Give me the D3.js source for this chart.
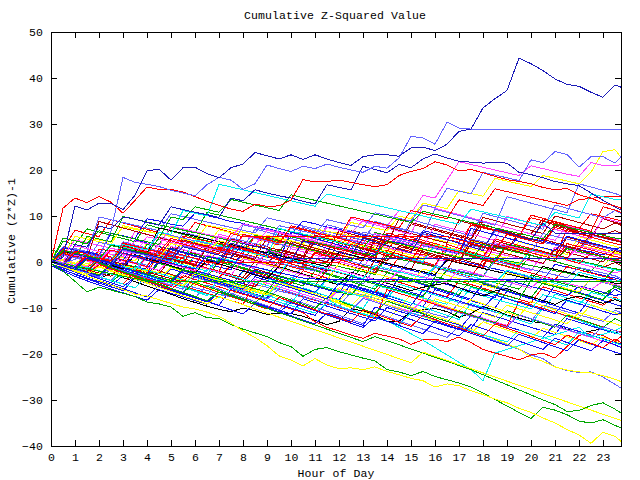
<!DOCTYPE html>
<html><head><meta charset="utf-8">
<script src="https://cdn.jsdelivr.net/npm/d3@7"></script>
<style>
body{margin:0;background:#fff}
svg{display:block}
text{font-family:"Liberation Mono","DejaVu Sans Mono",monospace;font-size:11.5px;letter-spacing:0.1px;fill:#000}
</style>
</head><body>
<svg id="chart" width="640" height="480"></svg>
<script>
// ---------- data ----------
const hours = [0,0.5,1,1.5,2,2.5,3,3.5,4,4.5,5,5.5,6,6.5,7,7.5,8,8.5,9,9.5,10,10.5,11,11.5,
  12,12.5,13,13.5,14,14.5,15,15.5,16,16.5,17,17.5,18,18.5,19,19.5,20,20.5,21,21.5,22,22.5,23,23.5,23.75];
const xTickValues = [0,1,2,3,4,5,6,7,8,9,10,11,12,13,14,15,16,17,18,19,20,21,22,23];
const yTickValues = [-40,-30,-20,-10,0,10,20,30,40,50];
const titleText = "Cumulative Z-Squared Value";
const xTitle = "Hour of Day";
const yTitle = "Cumulative (Z*Z)-1";

const b01 = [0.5,-0.1,2.4,1.8,1.2,0.6,3.9,3.3,2.7,2.1,1.5,0.9,
  4.2,3.6,3.0,2.4,1.8,5.6,5.0,4.4,3.8,3.2,2.6,2.0,
  1.4,5.3,4.7,4.1,3.5,2.9,2.3,6.1,5.5,4.9,4.3,8.0,
  7.4,6.8,6.2,5.6,9.6,9.0,8.4,7.8,7.2,10.5,9.9,9.3, 9.0];
const b02 = [0,-0.7,-1.3,-1.9,0.8,0.2,-0.4,-1.0,-1.6,1.9,1.3,0.7,
  0.1,-0.5,-1.1,-1.7,2.5,1.9,1.3,0.7,0.1,-0.5,-1.1,-1.7,
  -2.3,-2.9,0.6,0.0,-0.6,-1.2,-1.8,-2.4,-3.0,0.9,0.3,-0.3,
  -0.9,-1.5,-2.1,-2.7,-3.3,-3.9,-0.5,-1.1,-1.7,-2.3,-2.9,-3.5, -3.8];
const b03 = [1.2,0.5,-0.2,-0.9,2.3,1.6,0.9,0.2,4.1,3.4,2.7,2.0,
  1.3,0.6,3.8,3.1,2.4,1.7,1.0,5.2,4.5,3.8,3.1,2.4,
  1.7,1.0,0.3,3.6,2.9,2.2,1.5,0.8,5.0,4.3,3.6,2.9,
  2.2,1.5,0.8,4.4,3.7,3.0,2.3,1.6,5.5,4.8,4.1,3.4, 3.0];
const b04 = [0,-0.8,-1.6,0.7,-0.1,-0.9,-1.7,-2.5,1.2,0.4,-0.4,-1.2,
  -2.0,-2.8,0.9,0.1,-0.7,-1.5,-2.3,-3.1,-3.9,-0.8,-1.6,-2.4,
  -3.2,-4.0,-4.8,-1.5,-2.3,-3.1,-3.9,-4.7,-1.2,-2.0,-2.8,-3.6,
  -4.4,-5.2,-6.0,-2.7,-3.5,-4.3,-5.1,-5.9,-6.7,-3.6,-4.4,-5.2, -5.6];
const b05 = [0,1.8,1.1,0.4,-0.3,2.6,1.9,1.2,0.5,-0.2,3.3,2.6,
  1.9,1.2,0.5,4.0,3.3,2.6,1.9,6.2,5.5,4.8,4.1,3.4,
  2.7,6.8,6.1,5.4,4.7,4.0,8.3,7.6,6.9,6.2,5.5,4.8,
  8.9,8.2,7.5,6.8,6.1,9.4,8.7,8.0,7.3,6.6,5.9,6.8, 6.3];
const b06 = [0,-0.8,1.5,0.7,-0.1,-0.9,-1.7,-2.5,-3.3,-0.2,-1.0,-1.8,
  -2.6,-3.4,0.4,-0.4,-1.2,-2.0,-2.8,-3.6,-4.4,-5.2,-1.9,-2.7,
  -3.5,-4.3,-5.1,-5.9,-2.3,-3.1,-3.9,-4.7,-5.5,-6.3,-7.1,-3.8,
  -4.6,-5.4,-6.2,-7.0,-7.8,-4.4,-5.2,-6.0,-6.8,-7.6,-8.4,-9.2, -9.6];
const b07 = [0.6,-0.1,-0.8,2.0,1.3,0.6,-0.1,3.1,2.4,1.7,1.0,0.3,
  -0.4,3.5,2.8,2.1,1.4,0.7,0.0,-0.7,2.9,2.2,1.5,0.8,
  0.1,-0.6,-1.3,2.4,1.7,1.0,0.3,-0.4,-1.1,3.0,2.3,1.6,
  0.9,0.2,-0.5,-1.2,-1.9,1.8,1.1,0.4,-0.3,-1.0,-1.7,-2.4, -2.0];
const b08 = [0,-0.8,-1.6,-2.4,-0.3,-1.1,-1.9,-2.7,-3.5,-4.3,-1.2,-2.0,
  -2.8,-3.6,-4.4,-5.2,-2.0,-2.8,-3.6,-4.4,-5.2,-6.0,-6.8,-3.9,
  -4.7,-5.5,-6.3,-7.1,-7.9,-4.8,-5.6,-6.4,-7.2,-8.0,-8.8,-5.5,
  -6.3,-7.1,-7.9,-8.7,-9.5,-10.3,-7.0,-7.8,-8.6,-9.4,-10.2,-11.0, -11.5];
const b09 = [0,2.7,2.0,1.3,0.6,-0.1,4.2,3.5,2.8,2.1,1.4,0.7,
  0.0,-0.7,3.2,2.5,1.8,1.1,0.4,-0.3,-1.0,-1.7,1.9,1.2,
  0.5,-0.2,-0.9,-1.6,-2.3,1.0,0.3,-0.4,-1.1,-1.8,-2.5,-3.2,
  0.4,-0.3,-1.0,-1.7,-2.4,-3.1,-3.8,-1.0,-1.7,-2.4,-3.1,-3.8, -4.5];
const b10 = [-0.8,-1.7,-2.6,-3.5,-4.3,-5.1,-3.0,-3.8,-4.6,-5.4,-6.2,-7.0,
  -7.8,-8.6,-9.4,-6.0,-6.8,-7.6,-8.4,-9.2,-10.0,-10.8,-11.6,-8.8,
  -9.6,-10.4,-11.2,-12.0,-12.8,-13.6,-10.5,-11.3,-12.1,-12.9,-13.7,-14.5,
  -11.0,-11.8,-12.6,-13.4,-14.2,-15.0,-15.8,-12.3,-13.1,-13.9,-14.7,-15.5, -15.0];
const b11 = [0,-0.9,-1.8,-2.7,-0.9,-1.8,-2.7,-3.6,-4.5,-2.0,-2.9,-3.8,
  -4.7,-5.6,-6.5,-7.4,-5.0,-5.9,-6.8,-7.7,-8.6,-9.5,-7.2,-8.1,
  -9.0,-9.9,-10.8,-11.7,-12.6,-10.1,-11.0,-11.9,-12.8,-13.7,-14.6,-15.5,
  -13.0,-13.9,-14.8,-15.7,-16.6,-14.4,-15.3,-16.2,-17.1,-18.0,-16.3,-17.2, -17.8];
const b12 = [0,-0.7,2.6,1.9,1.2,0.5,4.4,3.7,3.0,2.3,1.6,6.5,
  5.8,5.1,4.4,3.7,3.0,7.2,6.5,5.8,5.1,4.4,3.7,8.1,
  7.4,6.7,6.0,5.3,4.6,3.9,9.2,8.5,7.8,7.1,6.4,5.7,
  10.6,9.9,9.2,8.5,7.8,7.1,12.4,11.7,11.0,10.3,9.6,11.2, 10.5];
const b13 = [0,-0.7,-1.4,1.3,0.6,-0.1,-0.8,2.5,1.8,1.1,0.4,-0.3,
  3.6,2.9,2.2,1.5,0.8,0.1,-0.6,2.8,2.1,1.4,0.7,0.0,
  4.2,3.5,2.8,2.1,1.4,0.7,5.0,4.3,3.6,2.9,2.2,1.5,
  0.8,4.6,3.9,3.2,2.5,1.8,1.1,5.4,4.7,4.0,3.3,2.6, 2.2];
const b14 = [0,-0.9,-1.8,-2.7,-3.6,-2.5,-3.4,-4.3,-5.2,-6.1,-7.0,-8.0,
  -8.8,-9.6,-10.3,-10.8,-10.0,-10.6,-11.4,-11.1,-11.2,-11.8,-12.7,-13.6,
  -12.9,-10.2,-10.6,-11.4,-12.9,-12.9,-10.8,-10.4,-10.1,-10.8,-12.0,-11.2,
  -9.7,-10.5,-11.5,-12.2,-12.9,-13.3,-13.9,-14.6,-15.5,-15.0,-14.5,-15.3, -15.8];
const b15 = [0,-0.8,-1.6,-2.4,-0.5,-1.3,-2.1,-2.9,-3.7,-4.5,-5.3,-3.0,
  -3.8,-4.6,-5.4,-6.2,-7.0,-7.8,-8.6,-9.4,-10.2,-11.0,-13.0,-14.2,
  -15.0,-15.9,-16.6,-15.5,-16.1,-16.7,-17.9,-16.9,-16.8,-17.3,-16.3,-17.5,
  -19.0,-19.8,-20.5,-21.3,-20.2,-19.8,-20.9,-18.4,-16.0,-15.3,-16.0,-17.3, -16.2];
const b16 = [0,-0.9,-1.8,-2.7,-3.6,-1.5,-2.4,-3.3,-4.2,-5.1,-6.0,-6.9,
  -7.8,-5.0,-5.9,-6.8,-7.7,-8.6,-9.5,-10.4,-8.0,-8.9,-9.8,-10.7,
  -11.6,-12.5,-13.4,-11.0,-11.9,-12.8,-13.7,-14.6,-15.5,-16.4,-14.0,-14.9,
  -16.2,-17.1,-18.0,-19.0,-20.2,-21.0,-22.8,-23.6,-24.0,-23.9,-25.0,-26.6, -27.4];
const b17 = [0,-0.8,-1.6,1.1,0.3,-0.5,-1.3,-2.1,-2.9,-3.7,-1.2,-2.0,
  -2.8,-3.6,-4.4,-5.2,-6.0,-6.8,-4.0,-4.8,-5.6,-6.4,-7.2,-8.0,
  -8.8,-9.6,-7.0,-7.8,-8.6,-9.4,-10.2,-11.0,-11.8,-12.6,-13.5,-14.6,
  -15.8,-16.8,-17.8,-18.9,-20.7,-21.6,-22.8,-23.5,-23.9,-24.1,-24.7,-25.5, -26.0];
const b18 = [0,-0.8,-1.6,-2.4,-3.2,-0.6,-1.4,-2.2,-3.0,-3.8,-4.6,-5.4,
  -2.5,-3.3,-4.1,-4.9,-5.7,-6.5,-7.3,-4.8,-5.6,-6.4,-7.2,-8.0,
  -9.6,-10.4,-11.2,-12.0,-12.8,-14.2,-15.6,-17.0,-18.6,-20.2,-21.8,-23.4,
  -25.8,-19.8,-19.0,-18.2,-17.4,-16.6,-15.8,-15.0,-14.2,-16.5,-15.7,-14.9, -14.2];
const b19 = [0,-0.8,-1.6,-2.4,-0.2,-1.0,-1.8,-2.6,-3.4,-4.2,-5.0,-2.4,
  -3.2,-4.0,-4.8,-5.6,-6.4,-3.8,-4.6,-5.4,-6.2,-7.0,-7.8,-8.6,
  -6.0,-6.8,-7.6,-8.4,-9.2,-10.0,-10.8,-8.2,-9.0,-9.8,-10.6,-11.4,
  -12.2,-13.0,-13.8,-11.6,-12.4,-13.2,-14.0,-14.8,-15.6,-16.4,-17.2,-18.0, -18.5];
const b20 = [0,-0.8,2.1,1.3,0.5,-0.3,-1.1,-1.9,1.4,0.6,-0.2,-1.0,
  -1.8,-2.6,-3.4,-0.7,-1.5,-2.3,-3.1,-3.9,-4.7,-1.9,-2.7,-3.5,
  -4.3,-5.1,-5.9,-6.7,-3.6,-4.4,-5.2,-6.0,-6.8,-7.6,-4.1,-4.9,
  -5.7,-6.5,-7.3,-8.1,-8.9,-5.4,-6.2,-7.0,-7.8,-8.6,-9.4,-7.6, -8.4];
const b21 = [0.3,-0.5,-1.3,-2.1,-2.9,-0.9,-1.7,-2.5,-3.3,-4.1,-1.5,-2.3,
  -3.1,-3.9,-4.7,-5.5,-1.8,-2.6,-3.4,-4.2,-5.0,-5.8,-6.6,-3.5,
  -4.3,-5.1,-5.9,-6.7,-7.5,-3.3,-4.1,-4.9,-5.7,-6.5,-7.3,-8.1,
  -4.8,-5.6,-6.4,-7.2,-8.0,-8.8,-5.0,-5.8,-6.6,-7.4,-8.2,-5.9, -6.7];
const b22 = [2.6,1.9,1.2,0.5,-0.2,-0.9,1.8,1.1,0.4,-0.3,-1.0,-1.7,
  1.4,0.7,0.0,-0.7,-1.4,-2.1,-2.8,0.3,-0.4,-1.1,-1.8,-2.5,
  -3.2,-3.9,-0.8,-1.5,-2.2,-2.9,-3.6,-4.3,-5.0,-1.7,-2.4,-3.1,
  -3.8,-4.5,-5.2,-5.9,-2.8,-3.5,-4.2,-4.9,-5.6,-6.3,-7.0,-5.5, -6.0];
const b23 = [0,-0.7,-1.4,-2.1,0.9,0.2,-0.5,-1.2,-1.9,-2.6,0.8,0.1,
  -0.6,-1.3,-2.0,-2.7,-3.4,0.2,-0.5,-1.2,-1.9,-2.6,-3.3,-4.0,
  -0.3,-1.0,-1.7,-2.4,1.8,1.1,0.4,-0.3,-1.0,-1.7,2.6,1.9,
  1.2,0.5,-0.2,-0.9,3.0,2.3,1.6,0.9,0.2,-0.5,-1.2,-0.1, -0.8];
const b24 = [0,-0.9,-1.8,-0.2,-1.1,-2.0,-2.9,-3.8,-1.5,-2.4,-3.3,-4.2,
  -5.1,-2.6,-3.5,-4.4,-5.3,-6.2,-7.1,-4.5,-5.4,-6.3,-7.2,-8.1,
  -5.6,-6.5,-7.4,-8.3,-9.2,-10.1,-7.0,-7.9,-8.8,-9.7,-10.6,-8.2,
  -9.1,-10.0,-10.9,-11.8,-8.6,-9.5,-10.4,-11.3,-12.2,-9.3,-10.2,-11.1, -11.5];
const b25 = [0,-0.6,2.9,2.3,1.7,1.1,0.5,-0.1,-0.7,2.5,1.9,1.3,
  0.7,0.1,-0.5,-1.1,1.6,1.0,0.4,-0.2,-0.8,-1.4,-2.0,1.3,
  0.7,0.1,-0.5,-1.1,-1.7,-2.3,0.5,-0.1,-0.7,-1.3,-1.9,-2.5,
  -3.1,0.2,-0.4,-1.0,-1.6,-2.2,-2.8,-3.4,-1.2,-1.8,-2.4,-3.0, -3.6];
const b26 = [0.9,0.2,-0.5,-1.2,-1.9,-2.6,-3.3,-1.1,-1.8,-2.5,-3.2,-3.9,
  -4.6,-1.6,-2.3,-3.0,-3.7,-4.4,-5.1,-5.8,-3.4,-4.1,-4.8,-5.5,
  -6.2,-6.9,-7.6,-5.0,-5.7,-6.4,-7.1,-7.8,-8.5,-9.2,-6.0,-6.7,
  -7.4,-8.1,-8.8,-9.5,-10.2,-7.1,-7.8,-8.5,-9.2,-6.6,-7.3,-8.0, -8.3];
const b27 = [0,1.6,0.9,0.2,-0.5,2.4,1.7,1.0,0.3,4.1,3.4,2.7,
  2.0,1.3,5.6,4.9,4.2,3.5,2.8,2.1,6.4,5.7,5.0,4.3,
  3.6,9.5,8.8,8.1,7.4,6.7,6.0,12.4,11.7,11.0,10.3,9.6,
  8.9,8.2,7.5,6.8,6.1,5.4,4.7,7.9,7.2,6.5,5.8,5.1, 4.6];
const b28 = [0,-0.7,-1.4,2.3,1.6,0.9,0.2,4.8,4.1,3.4,2.7,2.0,
  1.3,0.6,-0.1,3.2,2.5,1.8,1.1,0.4,6.5,5.8,5.1,4.4,
  3.7,3.0,2.3,1.6,5.9,5.2,4.5,3.8,3.1,2.4,1.7,7.3,
  6.6,5.9,5.2,4.5,3.8,3.1,2.4,5.6,4.9,4.2,3.5,2.8, 3.2];
const b29 = [0.4,-0.4,-1.2,-2.0,0.7,-0.1,-0.9,-1.7,-2.5,1.9,1.1,0.3,
  -0.5,-1.3,-2.1,3.6,2.8,2.0,1.2,0.4,-0.4,-1.2,2.2,1.4,
  0.6,-0.2,-1.0,-1.8,2.5,1.7,0.9,0.1,-0.7,3.8,3.0,2.2,
  1.4,0.6,-0.2,-1.0,2.9,2.1,1.3,0.5,-0.3,1.9,1.1,0.3, 0.9];
const b30 = [0,-0.7,1.9,1.2,0.5,-0.2,3.6,2.9,2.2,1.5,0.8,4.8,
  4.1,3.4,2.7,2.0,1.3,0.6,5.4,4.7,4.0,3.3,2.6,1.9,
  6.8,6.1,5.4,4.7,4.0,9.3,8.6,7.9,7.2,6.5,5.8,5.1,
  9.7,9.0,8.3,7.6,6.9,6.2,10.0,9.3,8.6,7.9,7.2,8.5, 8.0];
const b31 = [0,-0.8,-1.6,0.9,0.1,-0.7,-1.5,1.6,0.8,0.0,-0.8,-1.6,
  -2.4,0.4,-0.4,-1.2,-2.0,-2.8,-3.6,-1.0,-1.8,-2.6,-3.4,-4.2,
  -5.0,-2.2,-3.0,-3.8,-4.6,-5.4,-6.2,-5.5,-5.0,-4.6,-5.6,-6.6,
  -7.4,-6.3,-5.8,-6.8,-7.6,-8.4,-9.2,-8.0,-7.4,-8.2,-9.0,-8.2, -8.6];
const b32 = [0,-0.9,-1.8,-2.7,-3.6,-4.5,-2.2,-3.1,-4.0,-4.9,-5.8,-6.7,
  -4.4,-5.3,-6.2,-7.1,-8.0,-8.9,-6.5,-7.4,-8.3,-9.2,-10.1,-7.6,
  -8.5,-9.4,-10.3,-11.2,-8.5,-9.4,-10.3,-11.2,-12.1,-13.0,-10.6,-11.5,
  -12.4,-13.3,-10.6,-11.5,-12.4,-13.3,-14.2,-11.5,-12.4,-13.3,-14.2,-12.3, -12.9];
const b33 = [0,-0.9,-1.8,-2.7,-3.6,-4.5,-5.4,-3.3,-4.2,-5.1,-6.0,-6.9,
  -7.8,-8.7,-6.5,-7.4,-8.3,-9.2,-10.1,-11.0,-8.8,-9.7,-10.6,-11.5,
  -12.4,-13.3,-14.2,-12.0,-12.9,-13.8,-14.7,-15.6,-12.8,-13.7,-14.6,-15.5,
  -16.4,-17.3,-18.2,-15.7,-16.6,-17.5,-18.4,-19.3,-16.9,-17.8,-18.7,-19.6, -20.0];
const b34 = [0.5,-0.3,-1.1,-1.9,-2.7,-0.3,-1.1,-1.9,-2.7,-3.5,-4.3,-5.1,
  -2.4,-3.2,-4.0,-4.8,-5.6,-6.4,-7.2,-4.5,-5.3,-6.1,-6.9,-7.7,
  -8.5,-5.8,-6.6,-7.4,-8.2,-9.0,-9.8,-10.6,-8.0,-8.8,-9.6,-10.4,
  -11.2,-12.0,-9.4,-10.2,-11.0,-11.8,-12.6,-13.4,-11.0,-11.8,-12.6,-13.4, -13.9];
const b35 = [0,-0.8,-1.6,-2.4,-3.2,-1.1,-1.9,-2.7,-3.5,-4.3,-5.1,-5.9,
  -3.3,-4.1,-4.9,-5.7,-6.5,-7.3,-8.1,-5.8,-6.6,-7.4,-8.2,-9.0,
  -9.8,-10.6,-7.9,-8.7,-9.5,-10.3,-11.1,-11.9,-9.4,-10.2,-11.0,-11.8,
  -12.6,-13.4,-14.2,-11.5,-12.3,-13.1,-13.9,-14.7,-15.5,-16.3,-14.1,-14.9, -15.4];
const b36 = [1.0,0.3,-0.4,-1.1,1.7,1.0,0.3,-0.4,-1.1,-1.8,0.6,-0.1,
  -0.8,-1.5,-2.2,-2.9,0.7,0.0,-0.7,-1.4,-2.1,-2.8,-3.5,-1.0,
  -1.7,-2.4,-3.1,-3.8,-4.5,-1.8,-2.5,-3.2,-3.9,-4.6,-1.5,-2.2,
  -2.9,-3.6,-4.3,-5.0,-5.7,-3.2,-3.9,-4.6,-5.3,-6.0,-4.2,-4.9, -5.3];
const b37 = [0,-0.9,-1.8,-2.7,-0.6,-1.5,-2.4,-3.3,-4.2,-5.1,-6.0,-3.9,
  -4.8,-5.7,-6.6,-7.5,-8.4,-9.3,-10.2,-7.7,-8.6,-9.5,-10.4,-11.3,
  -12.2,-13.1,-10.4,-11.3,-12.2,-13.1,-14.0,-11.6,-12.5,-13.4,-14.3,-15.2,
  -16.1,-13.5,-14.4,-15.3,-16.2,-17.1,-18.0,-15.9,-16.8,-17.7,-18.6,-16.7, -17.5];
const b38 = [0,-0.7,-1.4,-2.1,0.6,-0.1,-0.8,2.7,2.0,1.3,0.6,-0.1,
  -0.8,3.2,2.5,1.8,1.1,0.4,-0.3,-1.0,4.4,3.7,3.0,2.3,
  1.6,0.9,0.2,5.1,4.4,3.7,3.0,2.3,1.6,0.9,0.2,4.8,
  4.1,3.4,2.7,6.3,5.6,4.9,4.2,3.5,2.8,6.1,5.4,4.7, 4.3];
const b39 = [0.2,-0.6,-1.4,-2.2,-3.0,-0.4,-1.2,-2.0,-2.8,-3.6,-4.4,-1.9,
  -2.7,-3.5,-4.3,-5.1,-5.9,-3.2,-4.0,-4.8,-5.6,-6.4,-7.2,-8.0,
  -4.6,-5.4,-6.2,-7.0,-7.8,-8.6,-9.4,-6.1,-6.9,-7.7,-8.5,-9.3,
  -10.1,-7.2,-8.0,-8.8,-9.6,-10.4,-11.2,-8.3,-9.1,-9.9,-10.7,-11.5, -11.1];
const b40 = [0,-0.7,-1.4,1.2,0.5,-0.2,-0.9,-1.6,1.5,0.8,0.1,-0.6,
  -1.3,-2.0,1.0,0.3,-0.4,-1.1,-1.8,-2.5,0.6,-0.1,-0.8,-1.5,
  -2.2,-2.9,-3.6,-0.7,-1.4,-2.1,-2.8,-3.5,-1.0,-1.7,-2.4,-3.1,
  -3.8,-4.5,-1.8,-2.5,-3.2,-3.9,-4.6,-5.3,-2.2,-2.9,-3.6,-4.3, -3.9];
const b41 = [0,2.2,1.5,0.8,8.8,8.1,7.4,6.7,6.0,5.3,4.6,3.9,
  3.2,2.5,1.8,5.0,4.3,3.6,2.9,2.2,1.5,0.8,4.5,3.8,
  3.1,2.4,1.7,1.0,0.3,3.4,2.7,2.0,1.3,0.6,-0.1,3.9,
  3.2,2.5,1.8,1.1,0.4,-0.3,2.8,2.1,1.4,0.7,0.0,2.5, 2.0];
const b42 = [0,5.2,4.6,4.0,6.8,6.2,5.6,5.0,4.4,3.8,7.6,7.0,
  6.4,5.8,5.2,4.6,4.0,3.4,2.8,2.2,5.5,4.9,4.3,3.7,
  3.1,2.5,1.9,1.3,4.6,4.0,3.4,2.8,2.2,1.6,1.0,0.4,
  3.8,3.2,2.6,2.0,1.4,0.8,0.2,2.9,2.3,1.7,1.1,0.5, 0.2];
const b43 = [0.8,0.2,3.5,2.9,2.3,1.7,1.1,4.6,4.0,3.4,7.8,7.2,
  6.6,6.0,5.4,4.8,4.2,3.6,6.9,6.3,5.7,5.1,4.5,3.9,
  3.3,2.7,2.1,6.2,5.6,5.0,4.4,3.8,3.2,2.6,2.0,1.4,
  0.8,4.2,3.6,3.0,2.4,1.8,1.2,0.6,3.5,2.9,2.3,1.7, 1.4];
const p03 = [0,-0.7,1.9,1.2,0.5,-0.2,3.1,2.4,1.7,1.0,0.3,4.6,
  3.9,3.2,2.5,1.8,6.0,5.3,4.6,3.9,3.2,7.5,6.8,6.1,
  5.4,4.7,4.0,8.8,8.1,7.4,6.7,6.0,11.5,10.8,10.1,9.4,
  8.7,8.0,14.2,13.5,12.8,12.1,11.4,10.7,17.0,16.3,15.6,14.9, 14.4];
const c01 = [0,3.1,2.6,2.0,1.5,6.2,5.7,5.1,9.4,8.9,8.2,7.8,
  10.6,10.1,9.5,8.8,8.4,7.7,7.3,6.6,6.0,8.9,8.3,7.6,
  7.1,6.5,5.8,5.3,4.6,4.2,3.5,6.8,6.2,5.5,5.0,4.3,
  3.8,3.1,2.6,5.7,5.0,4.6,3.9,3.3,2.7,2.2,1.5,2.8, 2.4];
const c02 = [0,-0.5,-1.0,-1.6,2.8,2.4,1.8,1.4,0.8,0.3,-0.3,5.6,
  5.1,4.5,4.1,3.5,3.0,2.4,2.0,1.4,0.9,0.3,6.2,5.8,
  5.2,4.7,4.1,3.7,3.1,2.6,2.0,1.6,1.0,0.5,-0.1,-0.6,
  -1.2,3.9,3.4,2.8,2.4,1.8,1.3,7.1,6.6,6.0,5.5,4.9, 4.6];
const c03 = [-0.5,-1.2,-2.0,-2.6,-3.4,-4.0,-1.3,-2.0,-2.8,-3.4,-4.2,-4.8,
  -5.6,-6.2,-7.0,-7.6,-4.1,-4.9,-5.5,-6.3,-6.9,-7.7,-8.3,-9.1,
  -9.7,-6.5,-7.2,-7.9,-8.6,-9.3,-10.0,-10.7,-11.4,-12.1,-8.8,-9.5,
  -10.2,-10.9,-11.6,-12.3,-13.0,-9.4,-10.1,-10.8,-11.5,-12.2,-12.9,-10.5, -11.0];
const c04 = [0,-0.6,1.8,1.2,0.7,0.1,-0.5,-1.0,3.9,3.3,2.8,2.2,
  1.7,1.1,0.6,0.0,-0.5,-1.1,2.3,1.7,1.2,0.6,0.1,-0.5,
  -1.0,-1.6,-2.1,-2.7,1.2,0.6,0.1,-0.5,-1.0,-1.6,-2.1,-2.7,
  -3.2,0.9,0.3,-0.2,-0.8,-1.3,-1.9,-2.4,-3.0,-3.5,-4.1,-1.4, -1.8];
const c05 = [0,2.0,1.5,5.3,4.8,4.3,7.6,7.1,6.6,6.1,5.6,5.1,
  4.6,8.0,7.5,7.0,6.5,6.0,5.5,5.0,4.5,4.0,7.2,6.7,
  6.2,5.7,5.2,4.7,4.2,3.7,3.2,2.7,2.2,1.7,1.2,4.5,
  4.0,3.5,3.0,2.5,2.0,1.5,1.0,0.5,3.6,3.1,2.6,2.1, 1.8];
const c06 = [0,-0.8,-1.6,-2.4,-0.6,-1.4,-2.2,-3.0,-1.1,-1.9,-2.7,-3.5,
  -0.8,-1.6,-2.4,-3.2,-4.0,-1.5,-2.3,-3.1,0.4,-0.4,-1.2,-2.0,
  2.3,1.5,0.7,4.4,3.6,2.8,2.0,6.5,5.7,4.9,4.1,3.3,
  8.2,7.4,6.6,5.8,5.0,4.2,7.9,7.1,6.3,5.5,9.4,8.6, 8.3];
const c07 = [0.4,-0.3,-1.0,-1.7,-2.4,-3.1,-0.8,-1.5,-2.2,-2.9,-3.6,-4.3,
  -1.9,-2.6,-3.3,-4.0,-4.7,-5.4,-2.3,-3.0,-3.7,-4.4,-5.1,-1.6,
  -2.3,-3.0,-3.7,0.5,-0.2,-0.9,-1.6,2.8,2.1,1.4,0.7,0.0,
  -0.7,3.6,2.9,2.2,1.5,0.8,0.1,3.3,2.6,1.9,1.2,0.5, 0.2];
const c08 = [0,-0.7,1.4,0.7,0.0,-0.7,-1.4,-2.1,-2.8,0.2,-0.5,-1.2,
  -1.9,-2.6,-3.3,-4.0,-4.7,-1.8,-2.5,-3.2,-3.9,-4.6,-5.3,-6.0,
  -6.7,-3.1,-3.8,-4.5,-5.2,-5.9,-6.6,-7.3,-4.2,-4.9,-5.6,-6.3,
  -7.0,-7.7,-3.9,-4.6,-5.3,-6.0,-6.7,-7.4,-5.2,-5.9,-6.6,-7.3, -7.0];
const c09 = [0,-0.8,-1.6,-2.4,-3.2,-4.0,-4.8,-2.0,-2.8,-3.6,-4.4,-5.2,
  -6.0,-6.8,-7.6,-8.4,-9.2,-4.3,-5.1,-5.9,-6.7,-7.5,-8.3,-9.1,
  -9.9,-10.7,-11.5,-12.3,-6.0,-6.8,-7.6,-8.4,-9.2,-10.0,-10.8,-11.6,
  -12.4,-13.2,-14.0,-8.5,-9.3,-10.1,-10.9,-11.7,-12.5,-13.3,-14.1,-14.9, -15.2];
const c10 = [0,-0.8,-1.6,-2.4,-3.2,-4.0,-4.8,-5.6,-3.0,-3.8,-4.6,-5.4,
  -6.2,-7.0,-7.8,-5.5,-6.3,-7.1,-7.9,-8.7,-9.5,-10.3,-11.1,-8.9,
  -9.7,-10.5,-11.3,-12.1,-12.9,-13.7,-11.0,-11.8,-12.6,-13.4,-14.2,-15.0,
  -15.8,-16.6,-17.4,-14.8,-15.6,-16.4,-17.2,-18.0,-15.2,-16.0,-16.8,-17.6, -18.0];
const c11 = [0,-0.7,-1.4,1.0,0.3,-0.4,-1.1,-1.8,0.9,0.2,-0.5,-1.2,
  -1.9,1.5,0.8,0.1,-0.6,-1.3,2.6,1.9,1.2,0.5,-0.2,3.7,
  3.0,2.3,1.6,0.9,5.1,4.4,3.7,3.0,8.2,7.5,6.8,6.1,
  5.4,4.7,9.9,9.2,8.5,7.8,7.1,6.4,5.7,5.0,9.6,8.9, 8.6];
const c12 = [0.3,-0.4,-1.1,1.4,0.7,0.0,-0.7,-1.4,-2.1,1.2,0.5,-0.2,
  -0.9,-1.6,-2.3,-3.0,0.9,0.2,-0.5,-1.2,-1.9,-2.6,-3.3,-4.0,
  -0.4,-1.1,-1.8,-2.5,-3.2,-3.9,-4.6,-1.5,-2.2,-2.9,-3.6,-4.3,
  -5.0,-5.7,-2.3,-3.0,-3.7,-4.4,-5.1,-5.8,-6.5,-3.6,-4.3,-5.0, -5.4];
const c13 = [0,1.6,1.0,0.4,4.3,3.7,3.1,2.5,1.9,6.4,5.8,5.2,
  4.6,4.0,3.4,2.8,8.1,7.5,6.9,6.3,5.7,5.1,4.5,3.9,
  3.3,2.7,6.5,5.9,5.3,4.7,4.1,3.5,2.9,2.3,1.7,5.0,
  4.4,3.8,3.2,2.6,2.0,6.2,5.6,5.0,4.4,3.8,3.2,2.6, 2.3];
const c14 = [0,2.4,1.8,1.2,0.6,3.8,3.2,2.6,2.0,7.4,6.8,6.2,
  5.6,5.0,4.4,3.8,3.2,2.6,2.0,1.4,0.8,0.2,-0.4,-1.0,
  2.1,1.5,0.9,0.3,-0.3,-0.9,-1.5,-2.1,-2.7,0.4,-0.2,-0.8,
  -1.4,-2.0,-2.6,-3.2,-3.8,-1.0,-1.6,-2.2,-2.8,-3.4,-4.0,-4.6, -4.8];
const c15 = [0,-0.7,-1.4,-2.1,-2.8,-0.5,-1.2,-1.9,-2.6,-3.3,-4.0,-1.6,
  -2.3,-3.0,-3.7,-4.4,-5.1,-5.8,-6.5,-3.0,-3.7,-4.4,-5.1,-5.8,
  -6.5,-7.2,-4.1,-4.8,-5.5,-6.2,-6.9,-7.6,-3.2,-3.9,-4.6,-5.3,
  -6.0,-6.7,-7.4,-8.1,-4.0,-4.7,-5.4,-6.1,-6.8,-7.5,-8.2,-5.1, -5.5];
const c16 = [0,-0.7,-1.4,-2.1,1.8,1.1,0.4,-0.3,-1.0,2.9,2.2,1.5,
  0.8,0.1,-0.6,3.5,2.8,2.1,1.4,0.7,0.0,4.9,4.2,3.5,
  2.8,2.1,1.4,0.7,6.3,5.6,4.9,4.2,3.5,2.8,2.1,8.4,
  7.7,7.0,6.3,5.6,10.2,9.5,8.8,8.1,7.4,6.7,12.0,11.3, 10.8];
const c17 = [0,-0.6,1.6,1.0,0.4,3.9,3.3,2.7,2.1,1.5,0.9,0.3,
  4.8,4.2,3.6,3.0,2.4,1.8,1.2,7.3,6.7,6.1,5.5,4.9,
  4.3,3.7,3.1,2.5,1.9,1.3,0.7,0.1,3.6,3.0,2.4,1.8,
  1.2,0.6,0.0,-0.6,2.5,1.9,1.3,0.7,0.1,-0.5,-1.1,-1.7, -1.9];
const c18 = [-0.4,-1.3,-2.2,-3.1,-4.0,-4.9,-5.8,-6.7,-7.6,-5.0,-5.9,-6.8,
  -7.7,-8.6,-9.5,-10.4,-11.3,-9.0,-9.9,-10.8,-11.7,-12.6,-13.5,-11.1,
  -12.0,-12.9,-13.8,-9.8,-10.7,-11.6,-12.5,-13.4,-14.3,-15.2,-16.1,-13.6,
  -14.5,-15.4,-16.3,-17.2,-18.1,-19.0,-16.6,-17.5,-18.4,-19.3,-17.1,-18.0, -18.6];
const d01 = [0,4.5,3.8,7.2,6.5,5.8,5.1,4.4,8.1,7.4,6.7,6.0,
  5.3,4.6,3.9,3.2,2.5,5.9,5.2,4.5,3.8,3.1,2.4,1.7,
  1.0,0.3,3.4,2.7,2.0,1.3,0.6,-0.1,-0.8,2.6,1.9,1.2,
  0.5,-0.2,-0.9,-1.6,1.5,0.8,0.1,-0.6,-1.3,-2.0,0.7,0.0, -0.3];
const d02 = [0.6,2.8,6.9,6.2,5.5,9.2,8.5,7.8,7.1,6.4,5.7,5.0,
  8.6,7.9,7.2,6.5,5.8,5.1,4.4,3.7,7.9,7.2,6.5,5.8,
  5.1,4.4,3.7,3.0,2.3,6.1,5.4,4.7,4.0,3.3,2.6,1.9,
  1.2,5.0,4.3,3.6,2.9,2.2,1.5,0.8,4.2,3.5,2.8,2.1, 1.8];
const d03 = [2.0,1.4,5.6,5.0,4.4,3.8,7.9,7.3,6.7,6.1,5.5,4.9,
  4.3,3.7,7.0,6.4,5.8,5.2,4.6,4.0,3.4,2.8,2.2,5.3,
  4.7,4.1,3.5,2.9,2.3,1.7,1.1,0.5,3.8,3.2,2.6,2.0,
  1.4,0.8,0.2,-0.4,2.7,2.1,1.5,0.9,0.3,-0.3,-0.9,1.9, 1.5];
const d04 = [0,3.3,2.7,2.1,9.8,9.2,8.6,8.0,7.4,6.8,10.5,9.9,
  9.3,8.7,8.1,7.5,6.9,6.3,9.6,9.0,8.4,7.8,7.2,6.6,
  6.0,5.4,4.8,8.4,7.8,7.2,6.6,6.0,5.4,4.8,4.2,3.6,
  3.0,6.7,6.1,5.5,4.9,4.3,3.7,3.1,2.5,5.8,5.2,4.6, 4.3];
const d05 = [-0.5,-1.6,-2.7,-3.7,-4.6,-5.4,-6.2,-3.5,-4.3,-5.1,-5.9,-6.7,
  -3.0,-3.8,-4.6,-5.4,-6.2,-7.0,-7.8,-4.2,-5.0,-5.8,-6.6,-7.4,
  -8.2,-4.9,-5.7,-6.5,-7.3,-8.1,-8.9,-9.7,-6.0,-6.8,-7.6,-8.4,
  -9.2,-10.0,-6.3,-7.1,-7.9,-8.7,-9.5,-10.3,-11.1,-7.6,-8.4,-9.2, -9.6];
const d06 = [-0.8,-2.0,-3.1,-4.1,-5.0,-5.9,-6.7,-7.5,-8.3,-6.0,-6.8,-7.6,
  -8.4,-9.2,-6.5,-7.3,-8.1,-8.9,-9.7,-10.5,-11.3,-8.0,-8.8,-9.6,
  -10.4,-11.2,-12.0,-12.8,-9.9,-10.7,-11.5,-12.3,-13.1,-13.9,-14.7,-11.6,
  -12.4,-13.2,-14.0,-14.8,-15.6,-16.4,-13.5,-14.3,-15.1,-15.9,-16.7,-17.5, -17.8];
const d07 = [0,-0.9,-1.8,-2.7,-3.6,-4.5,-1.0,-1.9,-2.8,-3.7,-4.6,-5.5,
  -6.4,-7.3,-3.6,-4.5,-5.4,-6.3,-7.2,-8.1,-9.0,-5.6,-6.5,-7.4,
  -8.3,-9.2,-10.1,-6.2,-7.1,-8.0,-8.9,-9.8,-10.7,-11.6,-12.5,-9.0,
  -9.9,-10.8,-11.7,-12.6,-13.5,-10.0,-10.9,-11.8,-12.7,-13.6,-14.5,-15.4, -15.8];
const d08 = [0,1.2,4.8,4.2,3.6,3.0,2.4,6.6,6.0,5.4,4.8,4.2,
  3.6,3.0,2.4,1.8,5.7,5.1,4.5,3.9,3.3,2.7,2.1,1.5,
  0.9,4.9,4.3,3.7,3.1,2.5,1.9,1.3,0.7,0.1,3.8,3.2,
  2.6,2.0,1.4,0.8,0.2,-0.4,3.2,2.6,2.0,1.4,0.8,0.2, 0.0];
const d09 = [0,-0.7,1.8,1.1,0.4,-0.3,3.0,2.3,1.6,0.9,0.2,3.6,
  2.9,2.2,1.5,0.8,0.1,4.0,3.3,2.6,1.9,1.2,5.8,5.1,
  4.4,3.7,3.0,2.3,7.6,6.9,6.2,5.5,4.8,4.1,9.0,8.3,
  7.6,6.9,6.2,5.5,4.8,8.8,8.1,7.4,6.7,6.0,5.3,4.6, 4.4];
const d10 = [0,1.5,0.9,5.6,5.0,4.4,9.9,9.3,8.7,8.1,7.5,6.9,
  6.3,10.8,10.2,9.6,9.0,8.4,7.8,7.2,6.6,6.0,5.4,4.8,
  4.2,3.6,3.0,6.4,5.8,5.2,4.6,4.0,3.4,2.8,2.2,1.6,
  1.0,0.4,3.9,3.3,2.7,2.1,1.5,0.9,0.3,-0.3,-0.9,-1.5, -1.7];

// upper outliers
const peak44 = [0,1,12.2,11.3,12.8,12.7,11.4,14.5,19.8,20.2,17.8,20.5,
  20.6,19.2,18.3,20.5,21.3,23.8,23.1,22.4,23.3,22.3,23.3,22.4,
  21.6,21.0,22.9,23.3,23.3,23.0,24.8,25.0,24.2,25.6,28.4,28.9,
  33.5,35.5,37.3,44.3,43.1,41.6,39.8,38.6,38.2,36.9,35.8,38.5, 38.0];
const flat29 = [0.5,-0.3,0.6,1.8,1.0,6.8,18.4,17.3,16.9,16.4,15.6,15.0,
  14.4,16.8,18.4,17.8,15.8,17.0,21.1,20.3,19.7,20.8,20.3,21.3,
  20.6,20.0,19.5,20.8,20.4,22.6,27.3,27.0,25.6,30.4,29.1,28.9,
  28.9,28.9,28.9,28.9,28.9,28.9,28.9,28.9,28.9,28.9,28.9,28.9, 28.9];
const redHigh = [0,11.7,13.9,12.9,14.2,13.0,10.6,13.4,16.3,15.8,15.8,15.2,
  14.2,13.2,12.3,11.5,11.0,12.6,12.1,12.2,13.5,17.9,17.4,17.5,
  17.8,17.3,16.8,16.4,16.8,18.8,19.7,20.3,21.8,21.1,19.8,20.1,
  19.4,18.6,17.9,17.5,17.0,16.2,15.7,16.0,14.6,13.9,12.8,12.2, 11.7];
const blueHigh = [0,-0.6,3.8,3.2,7.8,7.2,9.8,9.3,8.6,8.0,12.0,11.4,
  10.8,10.3,9.7,13.9,13.3,15.7,15.0,14.4,13.9,13.2,12.6,16.8,
  16.2,15.7,20.8,20.1,19.4,21.2,20.5,22.4,23.5,22.6,21.9,21.7,
  21.5,21.6,21.5,19.5,19.0,18.3,17.5,17.0,16.6,15.0,13.4,12.0, 11.3];
const yellowHigh = [0.8,0.2,-0.4,1.6,1.0,0.4,2.8,2.2,1.6,1.0,4.0,3.4,
  2.8,2.2,4.6,4.0,3.4,2.8,5.8,5.2,4.6,4.0,6.5,5.9,
  5.3,8.6,8.0,7.4,6.8,10.0,9.4,12.8,12.2,11.6,15.5,14.9,
  14.3,18.2,17.6,17.0,16.4,18.8,18.2,17.6,17.0,19.5,24.0,24.4, 22.8];
const magentaHigh = [0,-0.6,1.5,0.9,0.3,3.0,2.4,1.8,5.5,4.9,4.3,3.7,
  3.1,2.5,6.0,5.4,8.3,7.7,7.1,6.5,5.9,5.3,4.7,7.5,
  6.9,6.3,9.0,8.4,7.8,11.2,10.6,14.5,13.9,17.8,21.8,21.2,
  20.6,20.0,19.4,18.8,20.9,20.3,19.7,19.1,18.6,21.6,21.0,20.9, 21.2];
const periHigh = [0,-0.7,-1.3,0.8,0.2,-0.4,2.6,2.0,1.4,0.8,0.2,3.5,
  2.9,2.3,1.7,5.2,4.6,4.0,3.4,7.9,7.3,6.7,6.1,9.2,
  8.6,8.0,7.4,10.7,10.1,9.5,8.9,12.4,11.8,16.0,15.4,14.8,
  19.5,18.9,18.3,17.7,22.2,21.6,24.0,23.4,20.6,22.9,22.9,21.5, 22.9];
const redMid = [0,-0.6,-1.2,1.4,0.8,0.2,4.0,3.4,2.8,2.2,5.1,4.5,
  3.9,3.3,2.7,2.1,6.0,5.4,4.8,4.2,7.6,7.0,6.4,5.8,
  5.2,9.8,9.2,8.6,8.0,7.4,11.2,10.6,10.0,9.4,13.5,12.9,
  12.3,15.9,15.3,14.7,14.1,13.5,12.9,12.3,13.6,13.8,14.2,14.3, 14.2];
const cyanHigh = [0,-0.6,-1.2,-1.8,1.0,0.4,3.8,3.2,2.6,6.5,6.0,11.2,
  10.6,10.0,16.9,16.3,15.7,15.1,14.5,13.9,13.3,12.7,12.1,14.8,
  14.2,13.6,13.0,12.4,11.8,11.2,10.6,10.0,9.4,8.8,8.2,11.5,
  10.9,10.3,9.7,9.1,8.5,7.9,10.8,10.2,9.6,14.8,14.2,13.6, 13.5];
const greenHigh = [0,2.5,1.9,1.3,0.7,3.6,3.0,2.4,1.8,5.2,9.8,9.2,
  12.0,11.4,10.8,13.6,13.0,12.4,11.8,11.2,14.6,14.0,13.4,12.8,
  12.2,11.6,11.0,10.4,9.8,9.2,8.6,11.0,10.4,9.8,9.2,8.6,
  8.0,7.4,6.8,6.2,5.6,5.0,8.2,7.6,7.0,6.4,5.8,5.2, 5.0];

// lines that stop changing (held flat)
const flatGreen = [0.3,-0.3,-0.9,-1.4,-2.0,-2.5,-3.1,-3.6,-4.2,
  -4.2,-4.2,-4.2,-4.2,-4.2,-4.2,-4.2,-4.2,-4.2,-4.2,
  -4.2,-4.2,-4.2,-4.2,-4.2,-4.2,-4.2,-4.2,-4.2,-4.2,
  -4.2,-4.2,-4.2,-4.2,-4.2,-4.2,-4.2,-4.2,-4.2,-4.2,
  -4.2,-4.2,-4.2,-4.2,-4.2,-4.2,-4.2,-4.2,-4.2,-4.2];
const flatNavy = [0,-0.6,1.7,1.1,0.5,-0.1,2.8,2.2,1.6,1.0,0.4,3.3,2.7,2.1,1.5,0.9,4.0,3.4,2.8,
  0.85,0.85,0.85,0.85,0.85,0.85,0.85,0.85,0.85,0.85,
  0.85,0.85,0.85,0.85,0.85,0.85,0.85,0.85,0.85,0.85,
  0.85,0.85,0.85,0.85,0.85,0.85,0.85,0.85,0.85,0.85];
const flatBlue = [0,-0.6,-1.2,0.9,0.3,-0.3,-0.9,1.5,0.9,0.3,-0.3,-0.9,-1.5,1.3,0.7,0.1,-0.5,-1.1,-1.7,-2.3,-2.9,-3.5,
  -3.7,-3.7,-3.7,-3.7,-3.7,-3.7,-3.7,-3.7,-3.7,-3.7,-3.7,-3.7,-3.7,
  -3.7,-3.7,-3.7,-3.7,-3.7,-3.7,-3.7,-3.7,-3.7,-3.7,-3.7,-3.7,-3.7];
const flatRedZero = [0,1.9,1.2,0.5,-0.2,2.6,1.9,1.2,0.5,-0.2,2.2,1.5,0.8,
  -0.1,-0.1,-0.1,-0.1,-0.1,-0.1,-0.1,-0.1,-0.1,-0.1,-0.1,-0.1,
  3.8,3.1,2.4,1.7,1.0,0.3,4.2,3.5,2.8,2.1,1.4,
  0.7,0.0,3.4,2.7,2.0,1.3,0.6,4.0,3.3,2.6,1.9,1.2, 1.0];
const flatRedFive = [0,-0.7,2.4,1.7,1.0,0.3,3.5,2.8,2.1,1.4,4.6,3.9,3.2,2.5,1.8,6.2,
  5.5,5.5,5.5,5.5,5.5,5.5,5.5,5.5,5.5,5.5,5.5,5.5,5.5,5.5,5.5,5.5,5.5,5.5,
  4.8,4.1,3.4,2.7,6.0,5.3,4.6,3.9,7.5,6.8,6.1,5.4,4.7,4.0, 3.7];
const flatNavySix = [0,-0.8,-1.6,0.8,0.0,-0.8,2.0,1.2,0.4,-0.4,
  3.0,2.2,1.4,0.6,-0.2,4.1,3.3,2.5,1.7,0.9,
  0.1,4.6,3.8,3.0,2.2,1.4,5.2,4.4,3.6,2.8,
  2.0,6.5,5.7,4.9,4.1,3.3,2.5,7.2,6.4,5.6,
  4.8,8.4,6.3,6.3,6.3,6.3,6.3,6.3,6.3];

// lower outliers
const greenLow1 = [-0.3,-2.0,-4.2,-6.5,-5.5,-6.1,-6.8,-7.5,-8.7,-9.1,-9.8,-11.8,
  -11.0,-12.1,-12.3,-13.6,-14.6,-15.4,-16.2,-17.5,-18.4,-20.5,-19.0,-18.6,
  -19.5,-20.2,-20.9,-21.5,-23.4,-23.9,-24.7,-23.8,-24.9,-25.6,-26.3,-27.2,
  -28.5,-29.9,-31.3,-32.7,-34.0,-31.6,-32.2,-33.2,-34.6,-35.0,-34.3,-35.5, -36.1];
const greenLow2 = [0,-0.9,-1.8,0.6,-0.3,-1.2,-2.1,-3.0,-3.9,-4.8,-5.7,-6.6,
  -7.5,-8.4,-6.5,-7.4,-8.3,-9.2,-10.1,-11.0,-11.9,-12.8,-13.7,-14.6,
  -15.5,-16.4,-17.3,-16.2,-17.1,-18.0,-18.9,-19.8,-20.7,-21.6,-22.5,-23.4,
  -24.5,-25.6,-26.7,-27.8,-28.9,-30.0,-31.0,-32.5,-32.3,-31.2,-30.6,-32.0, -32.8];
const yellowLow1 = [0,-1.0,-2.0,-3.0,-4.0,-5.0,-6.0,-7.0,-7.4,-8.2,-9.0,-9.8,
  -10.2,-10.9,-11.8,-13.3,-15.0,-16.4,-18.2,-20.4,-21.3,-22.6,-21.0,-22.4,
  -23.2,-23.0,-23.4,-22.8,-23.8,-24.5,-25.3,-25.8,-27.2,-26.5,-26.9,-28.0,
  -28.8,-29.8,-30.6,-31.8,-32.7,-33.9,-35.0,-36.4,-37.6,-39.4,-37.0,-37.9, -39.0];
const yellowLow2 = [0,-0.9,-1.8,-2.7,-1.0,-1.9,-2.8,-3.7,-4.6,-5.5,-6.4,-7.3,
  -8.2,-9.1,-7.5,-8.4,-9.3,-10.2,-11.1,-12.0,-12.9,-13.8,-14.7,-15.6,
  -16.5,-17.4,-18.3,-19.2,-20.1,-21.0,-21.9,-19.6,-20.5,-21.4,-22.3,-23.2,
  -24.1,-25.0,-25.9,-26.8,-27.7,-28.6,-29.5,-30.4,-31.3,-32.2,-33.1,-34.0, -34.4];

const palette = {
  red:"#ff0000", green:"#00a800", blue:"#1010f0", navy:"#1a1ab8", peri:"#6464ff",
  magenta:"#ff44ff", cyan:"#00eeee", darkred:"#b00000", yellow:"#ffff00", black:"#000000"
};

const seriesList = [
  [b01,"red"],[b02,"blue"],[b03,"yellow"],[b04,"peri"],[b05,"darkred"],[b06,"green"],
  [d01,"green"],[d02,"red"],[d03,"yellow"],[d04,"peri"],[d05,"blue"],
  [b07,"magenta"],[b08,"cyan"],[b09,"red"],[b10,"blue"],[b11,"yellow"],[b12,"peri"],
  [c01,"blue"],[c02,"red"],[c03,"peri"],[c04,"green"],[c05,"yellow"],[c06,"darkred"],
  [b13,"darkred"],[b14,"black"],[b15,"red"],[b16,"peri"],[b17,"yellow"],[b18,"cyan"],
  [d06,"blue"],[d07,"cyan"],[d08,"magenta"],[d09,"darkred"],[d10,"green"],
  [b19,"magenta"],[b20,"red"],[b21,"blue"],[b22,"green"],[b23,"darkred"],[b24,"yellow"],
  [c07,"darkred"],[c08,"blue"],[c09,"red"],[c10,"cyan"],[c11,"magenta"],[c12,"yellow"],
  [b25,"peri"],[b26,"cyan"],[b27,"magenta"],[b28,"blue"],[b29,"red"],[b30,"darkred"],
  [b31,"black"],[b32,"green"],[b33,"blue"],[b34,"yellow"],[b35,"peri"],[b36,"magenta"],
  [c13,"peri"],[c14,"black"],[c15,"green"],[c16,"red"],[c17,"cyan"],[c18,"blue"],
  [b37,"red"],[b38,"darkred"],[b39,"blue"],[b40,"cyan"],[b41,"darkred"],[b42,"green"],
  [b43,"magenta"],[p03,"peri"],
  [yellowHigh,"yellow"],[magentaHigh,"magenta"],[periHigh,"peri"],[redMid,"red"],
  [cyanHigh,"cyan"],[greenHigh,"green"],[blueHigh,"navy"],[redHigh,"red"],
  [greenLow1,"green"],[greenLow2,"green"],[yellowLow1,"yellow"],[yellowLow2,"yellow"],
  [flatRedZero,"red"],[flatRedFive,"red"],[flatNavySix,"navy"],
  [flatGreen,"green"],[flatBlue,"blue"],[flatNavy,"navy"],
  [flat29,"peri"],[peak44,"navy"]
];

// ---------- drawing ----------
const svg = d3.select("#chart");
const L = 51, R = 621, T = 32, B = 446;
const x = d3.scaleLinear().domain([0, 23.75]).range([L, R]);
const y = d3.scaleLinear().domain([-40, 50]).range([B, T]);

svg.append("rect").attr("width",640).attr("height",480).attr("fill","#fff");

svg.append("defs").append("clipPath").attr("id","plotclip")
  .append("rect").attr("x",L).attr("y",T).attr("width",R-L+1).attr("height",B-T+1);

const lineGen = d3.line()
  .defined((d,i) => i < hours.length && d != null)
  .x((d,i) => x(hours[i]))
  .y(d => y(d));

const plot = svg.append("g").attr("clip-path","url(#plotclip)");
seriesList.forEach(([vals, col]) => {
  plot.append("path")
    .datum(vals)
    .attr("d", lineGen)
    .attr("fill","none")
    .attr("stroke", palette[col])
    .attr("stroke-width", 1)
    .attr("shape-rendering","crispEdges");
});

function styleAxis(g){
  g.attr("font-family","Liberation Mono, DejaVu Sans Mono, monospace").attr("font-size",11.5);
  g.selectAll("path,line").attr("stroke","#000").attr("shape-rendering","crispEdges");
  g.selectAll("text").attr("fill","#000");
}

svg.append("g").attr("transform",`translate(0,${B})`)
  .call(d3.axisBottom(x).tickValues(xTickValues).tickSize(-6).tickSizeOuter(0).tickPadding(7).tickFormat(d3.format("d")))
  .call(styleAxis);
svg.append("g").attr("transform",`translate(0,${T})`)
  .call(d3.axisTop(x).tickValues(xTickValues).tickSize(-6).tickSizeOuter(0).tickFormat(""))
  .call(styleAxis);
svg.append("g").attr("transform",`translate(${L},0)`)
  .call(d3.axisLeft(y).tickValues(yTickValues).tickSize(-6).tickSizeOuter(0).tickPadding(8).tickFormat(d3.format("d")))
  .call(styleAxis);
svg.append("g").attr("transform",`translate(${R},0)`)
  .call(d3.axisRight(y).tickValues(yTickValues).tickSize(-6).tickSizeOuter(0).tickFormat(""))
  .call(styleAxis);

svg.append("text").attr("x",335).attr("y",19).attr("text-anchor","middle").text(titleText);
svg.append("text").attr("x",336).attr("y",477).attr("text-anchor","middle").text(xTitle);
svg.append("text").attr("transform","translate(15,241) rotate(-90)").attr("text-anchor","middle").text(yTitle);
</script>
</body></html>
